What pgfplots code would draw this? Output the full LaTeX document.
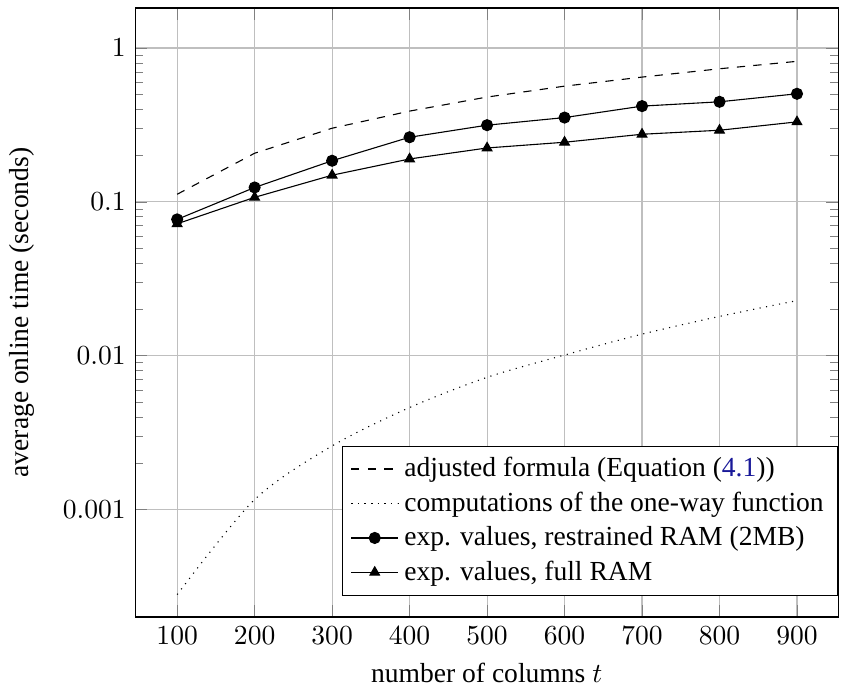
\documentclass[border=0pt]{standalone}
\usepackage{pgfplots}
\pgfplotsset{compat=1.18}
\usepackage{fontspec}
\setmainfont{Liberation Serif}
\definecolor{linkblue}{rgb}{0.1,0.1,0.6}
\begin{document}
\begin{tikzpicture}
\begin{semilogyaxis}[
  scale only axis,
  width=255pt, height=221pt,
  xmin=46, xmax=953,
  ymin=0.0002, ymax=1.82,
  xtick={100,200,...,900},
  ytick={0.001,0.01,0.1,1},
  yticklabels={$0.001$,$0.01$,$0.1$,$1$},
  grid=major,
  xlabel={number of columns $t$},
  ylabel={average online time (seconds)},
  ylabel style={yshift=3.5pt},
  legend style={at={(1,0.035)},anchor=south east,font=\normalsize,cells={anchor=west}},
  legend cell align=left,
]
\addplot[black, dashed] coordinates {
(100,0.112) (200,0.207) (300,0.301) (400,0.389) (500,0.480) (600,0.565) (700,0.647) (800,0.733) (900,0.819)};
\addlegendentry{adjusted formula (Equation (\textcolor{linkblue}{4.1}))}
\addplot[black, dotted, smooth] coordinates {
(100,0.00028) (200,0.00116) (300,0.00259) (400,0.0046) (500,0.00723) (600,0.0101) (700,0.0138) (800,0.018) (900,0.0228)};
\addlegendentry{computations of the one-way function}
\addplot[black, mark=*] coordinates {
(100,0.0769) (200,0.124) (300,0.185) (400,0.263) (500,0.315) (600,0.353) (700,0.419) (800,0.447) (900,0.504)};
\addlegendentry{exp. values, restrained RAM (2MB)}
\addplot[black, mark=triangle*] coordinates {
(100,0.072) (200,0.107) (300,0.149) (400,0.190) (500,0.224) (600,0.244) (700,0.275) (800,0.292) (900,0.331)};
\addlegendentry{exp. values, full RAM}
\end{semilogyaxis}
\path (current axis.north east) rectangle ++(4.7pt,2.9pt);
\end{tikzpicture}
\end{document}
